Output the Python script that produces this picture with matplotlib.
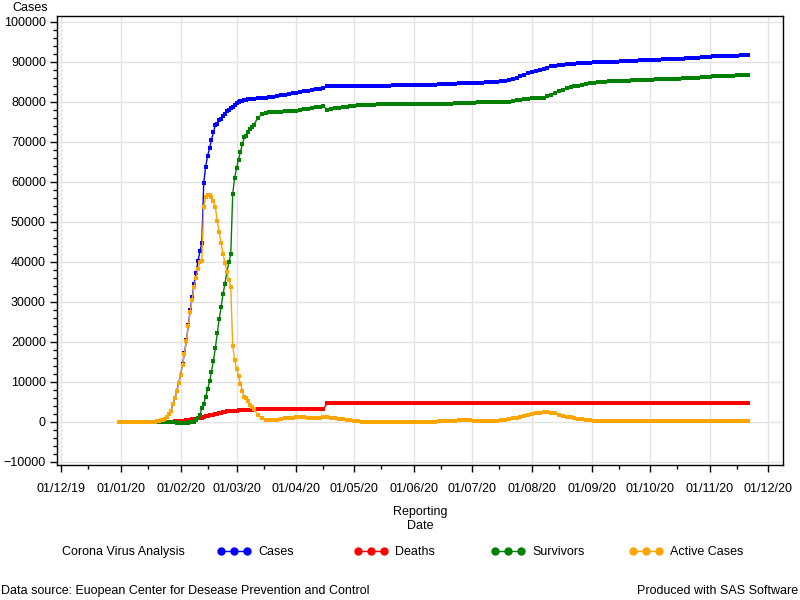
import matplotlib
matplotlib.use('Agg')
import matplotlib.pyplot as plt
import matplotlib.dates as mdates
from matplotlib.lines import Line2D
from matplotlib.ticker import MultipleLocator
import pandas as pd

plt.rcParams['font.family'] = ['Liberation Sans', 'DejaVu Sans']

# reporting dates: every 2 days, daily around the outbreak, then every 2 days again
dates = pd.DatetimeIndex(
    list(pd.date_range('2019-12-31', '2020-01-16', freq='2D'))
    + list(pd.date_range('2020-01-18', '2020-03-10', freq='D'))
    + list(pd.date_range('2020-03-12', '2020-11-21', freq='2D')))

cases = [
    27, 27, 44, 59, 59, 59, 41, 41, 45,
    # Jan 18 - 31
    62, 121, 198, 291, 440, 571, 830, 1287, 1975, 2744, 4515, 5974, 7711, 9692,
    # Feb
    11791, 14380, 17205, 20438, 24324, 28018, 31161, 34546, 37198, 40171, 42638, 44653,
    59804, 63851, 66492, 68500, 70548, 72436, 74185, 74576, 75465, 75862, 76510, 77000,
    77658, 78064, 78497, 78824, 79251,
    # Mar 1 - 10
    79824, 80026, 80151, 80270, 80409, 80552, 80651, 80695, 80735, 80754,
    # Mar 12 - 30
    80950, 81000, 81080, 81150, 81300, 81450, 81650, 81850, 82000, 82150,
    # Apr
    82300, 82480, 82650, 82800, 82950, 83130, 83280, 83400, 83900, 83950, 83980, 84000,
    84010, 84020, 84030,
    # May
    84040, 84050, 84060, 84060, 84070, 84080, 84090, 84100, 84110, 84120, 84130, 84140,
    84150, 84160, 84170, 84200,
    # Jun
    84250, 84270, 84280, 84290, 84300, 84320, 84380, 84450, 84520, 84580, 84620, 84700,
    84730, 84760, 84780,
    # Jul
    84800, 84830, 84860, 84900, 84950, 85000, 85080, 85150, 85250, 85450, 85750, 86100,
    86450, 86850, 87200,
    # Aug
    87550, 87850, 88050, 88200, 88600, 88900, 89100, 89250, 89350, 89430, 89530, 89620,
    89700, 89750, 89800, 89850,
    # Sep
    89900, 89950, 89990, 90020, 90050, 90080, 90120, 90170, 90220, 90280, 90330, 90370,
    90410, 90450, 90490,
    # Oct
    90530, 90570, 90600, 90640, 90680, 90720, 90760, 90800, 90850, 90900, 90960, 91030,
    91100, 91180, 91260,
    # Nov
    91330, 91400, 91440, 91480, 91520, 91550, 91580, 91610, 91650, 91700, 91750,
]

deaths = [
    0, 0, 0, 0, 0, 0, 1, 1, 2,
    2, 3, 3, 6, 9, 17, 25, 41, 56, 80, 106, 132, 170, 213,
    259, 304, 361, 425, 490, 563, 636, 722, 811, 908, 1016, 1113,
    1367, 1380, 1523, 1665, 1770, 1868, 2004, 2118, 2236, 2345, 2442, 2592,
    2663, 2715, 2744, 2788, 2835,
    2870, 2912, 2943, 2981, 3012, 3042, 3070, 3097, 3119, 3136,
    3180, 3195, 3215, 3235, 3255, 3265, 3280, 3290, 3300, 3310,
    3320, 3330, 3335, 3340, 3345, 3350, 3350, 3350, 4640, 4640, 4640, 4640,
    4640, 4640, 4640,
    4640, 4640, 4640, 4640, 4640, 4640, 4640, 4640, 4640, 4640, 4640, 4640,
    4640, 4640, 4640, 4640,
    4640, 4640, 4640, 4640, 4640, 4640, 4640, 4640, 4640, 4640, 4640, 4640,
    4640, 4640, 4640,
    4640, 4640, 4640, 4640, 4640, 4640, 4645, 4650, 4650, 4655, 4660, 4665,
    4670, 4675, 4680,
    4685, 4690, 4695, 4700, 4705, 4710, 4715, 4720, 4725, 4730, 4735, 4740,
    4740, 4740, 4740, 4740,
    4745, 4745, 4745, 4745, 4745, 4745, 4745, 4745, 4745, 4745, 4745, 4745,
    4745, 4745, 4745,
    4750, 4750, 4750, 4750, 4750, 4750, 4750, 4750, 4750, 4750, 4750, 4750,
    4750, 4750, 4750,
    4750, 4750, 4750, 4750, 4750, 4750, 4750, 4750, 4750, 4750, 4750,
]

active = [
    27, 27, 44, 59, 59, 59, 41, 41, 45,
    18, 77, 139, 232, 381, 512, 771, 1228, 1934, 2703, 4474, 5933, 7670, 9647,
    11746, 14318, 17084, 20240, 24033, 27578, 30590, 33716, 35911, 38196, 39894, 40138,
    53830, 56140, 56800, 56709, 56168, 55231, 53747, 50252, 47447, 44701, 41964, 39802,
    37487, 35426, 33844, 19020, 15400,
    13332, 11526, 9603, 7834, 6224, 5976, 5186, 4300, 3800, 3300,
    1750, 900, 550, 500, 500, 600, 750, 900, 1000, 1100,
    1150, 1200, 1150, 1100, 1000, 1000, 1100, 1150, 1200, 1050, 950, 850,
    700, 600, 500,
    350, 150, 100, 80, 70, 70, 60, 60, 60, 60, 60, 60,
    60, 60, 60, 80,
    100, 100, 90, 90, 80, 80, 150, 250, 330, 350, 350, 380,
    420, 450, 400,
    300, 250, 230, 230, 250, 280, 350, 450, 600, 750, 900, 1050,
    1250, 1450, 1700,
    1950, 2150, 2350, 2420, 2450, 2350, 2150, 1850, 1550, 1300, 1150, 1000,
    850, 700, 550, 420,
    300, 220, 180, 170, 170, 160, 160, 160, 170, 170, 180, 180,
    170, 170, 170,
    160, 160, 160, 170, 170, 180, 190, 200, 200, 210, 220, 230,
    240, 250, 260,
    260, 260, 250, 240, 230, 220, 210, 210, 210, 210, 210,
]

survivors = [
    0, 0, 0, 0, 0, 0, -1, -1, -2,
    42, 41, 56, 53, 50, 42, 34, 18, -15, -39, -65, -91, -129, -168,
    -214, -242, -240, -227, -199, -123, -65, 108, 476, 1067, 1728, 3402,
    4607, 6331, 8169, 10126, 12610, 15337, 18434, 22206, 25782, 28816, 32104, 34606,
    37508, 39923, 41909, 57016, 61016,
    63622, 65588, 67605, 69455, 71173, 71534, 72395, 73298, 73816, 74318,
    76020, 76905, 77315, 77415, 77545, 77585, 77620, 77660, 77700, 77740,
    77830, 77950, 78165, 78360, 78605, 78780, 78830, 78900, 78060, 78260, 78390, 78510,
    78670, 78780, 78890,
    79050, 79260, 79320, 79340, 79360, 79370, 79390, 79400, 79410, 79420, 79430, 79440,
    79450, 79460, 79470, 79480,
    79510, 79530, 79550, 79560, 79580, 79600, 79590, 79560, 79550, 79590, 79630, 79680,
    79670, 79670, 79740,
    79860, 79940, 79990, 80030, 80060, 80080, 80085, 80050, 80000, 80045, 80190, 80385,
    80530, 80725, 80820,
    80915, 81010, 81005, 81080, 81445, 81840, 82235, 82680, 83075, 83400, 83645, 83880,
    84110, 84310, 84510, 84690,
    84855, 84985, 85065, 85105, 85135, 85175, 85215, 85265, 85305, 85365, 85405, 85445,
    85495, 85535, 85575,
    85620, 85660, 85690, 85720, 85760, 85790, 85820, 85850, 85900, 85940, 85990, 86050,
    86110, 86180, 86250,
    86320, 86390, 86440, 86490, 86540, 86580, 86620, 86650, 86690, 86740, 86790,
]

labels = ['Cases', 'Deaths', 'Survivors', 'Active Cases']
colors = ['#0000ff', '#ff0000', '#008000', '#ffa500']

fig = plt.figure(figsize=(8, 6), dpi=100)
ax = fig.add_axes([57/800, 1 - 465/600, (783 - 57)/800, (465 - 16)/600])

for y, c in zip([cases, deaths, survivors, active], colors):
    ax.plot(dates, y, color=c, linewidth=1, marker='s', markersize=2.6,
            markeredgewidth=0)

ax.set_xlim(pd.Timestamp('2019-11-29'), pd.Timestamp('2020-12-09'))
ax.set_ylim(-10750, 101500)
ax.xaxis.set_major_locator(mdates.MonthLocator(bymonthday=1))
ax.xaxis.set_minor_locator(mdates.MonthLocator(bymonthday=15))
ax.xaxis.set_major_formatter(mdates.DateFormatter('%d/%m/%y'))
ax.yaxis.set_major_locator(MultipleLocator(10000))
ax.yaxis.set_minor_locator(MultipleLocator(2000))
ax.tick_params(which='major', direction='out', length=5, width=1, labelsize=9, pad=3)
ax.tick_params(axis='x', which='major', pad=8)
ax.tick_params(which='minor', direction='out', length=3, width=1)
ax.set_axisbelow(True)
ax.grid(True, which='major', color='#e3e3e3', linewidth=1)
for s in ax.spines.values():
    s.set_color('black')
    s.set_linewidth(1)

fig.text(12/800, 1 - 8/600, 'Cases', fontsize=9, va='center', ha='left')
fig.text(420/800, 1 - 519/600, 'Reporting\nDate', fontsize=9, ha='center', va='center',
         linespacing=1.3)

# legend row: title on the left, then one entry per series
fig.text(62/800, 1 - 552/600, 'Corona Virus Analysis', fontsize=9, va='center')
legend_x = [217, 354, 491, 629]
for lab, c, lx in zip(labels, colors, legend_x):
    h = Line2D([], [], color=c, linewidth=1, marker='o', markersize=5)
    leg = fig.legend([h], [lab], loc='center left',
                     bbox_to_anchor=(lx/800, 1 - 552/600), frameon=False, numpoints=3,
                     handlelength=2.7, handletextpad=0.6, fontsize=9,
                     borderaxespad=0, borderpad=0)

fig.text(1/800, 1 - 591/600, 'Data source: Euopean Center for Desease Prevention and Control',
         fontsize=9, va='center', ha='left')
fig.text(798/800, 1 - 591/600, 'Produced with SAS Software', fontsize=9, va='center', ha='right')

fig.savefig('out.png', dpi=100)
